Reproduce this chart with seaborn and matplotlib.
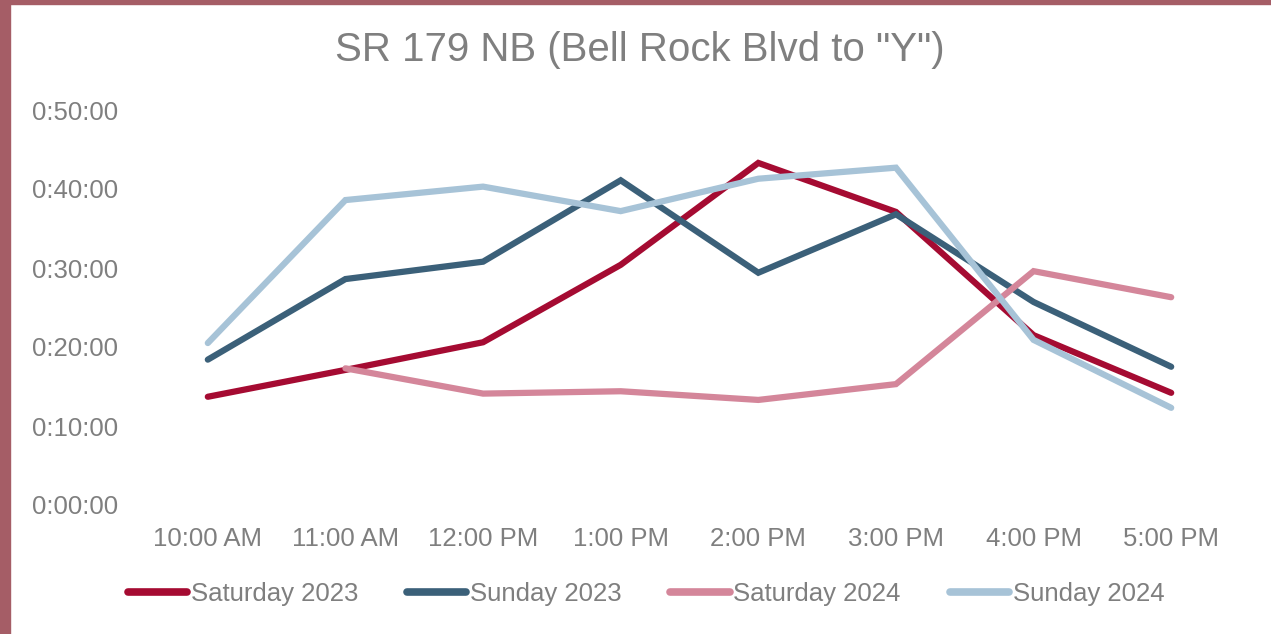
import numpy as np
import pandas as pd
import matplotlib
matplotlib.use("Agg")
import matplotlib.pyplot as plt
from matplotlib.ticker import FuncFormatter, MultipleLocator
from matplotlib.patches import Rectangle
from matplotlib.lines import Line2D
import seaborn as sns

# ---- data (travel time in minutes) ----
times = ["10:00 AM", "11:00 AM", "12:00 PM", "1:00 PM", "2:00 PM", "3:00 PM", "4:00 PM", "5:00 PM"]
saturday_2023 = [13.7, 17.1, 20.6, 30.4, 43.3, 37.1, 21.5, 14.2]
sunday_2023 = [18.4, 28.6, 30.8, 41.1, 29.4, 36.8, 25.7, 17.5]
saturday_2024 = [np.nan, 17.3, 14.1, 14.4, 13.3, 15.3, 29.6, 26.3]
sunday_2024 = [20.5, 38.6, 40.3, 37.2, 41.3, 42.7, 20.9, 12.3]
series_names = ["Saturday 2023", "Sunday 2023", "Saturday 2024", "Sunday 2024"]
colors = ["#A50B32", "#3B6079", "#D4869A", "#A7C3D7"]

rows = []
for name, vals in zip(series_names, [saturday_2023, sunday_2023, saturday_2024, sunday_2024]):
    for i, (t, v) in enumerate(zip(times, vals)):
        rows.append({"idx": i, "time": t, "minutes": v, "series": name})
df = pd.DataFrame(rows)

sns.set_theme(style="white")
plt.rcParams["font.family"] = ["Liberation Sans", "DejaVu Sans"]
text_color = "#7F7F7F"

fig = plt.figure(figsize=(12.71, 6.34), dpi=100)
fig.patch.set_facecolor("white")
ax = fig.add_axes([139 / 1271, 1 - 505 / 634, (1240 - 139) / 1271, (505 - 110) / 634])

sns.lineplot(data=df, x="idx", y="minutes", hue="series", hue_order=series_names,
             palette=colors, linewidth=4.5, sort=False, ax=ax, legend=False)
for ln in ax.lines:
    ln.set_solid_capstyle("round")
    ln.set_solid_joinstyle("miter")

ax.set_xlim(-0.5, len(times) - 0.5)
ax.set_ylim(0, 50)
ax.set_xticks(range(len(times)))
ax.set_xticklabels(times)
ax.yaxis.set_major_locator(MultipleLocator(10))
ax.yaxis.set_major_formatter(FuncFormatter(lambda v, p: f"0:{int(round(v)):02d}:00"))
ax.tick_params(axis="both", length=0, labelsize=18.5, labelcolor=text_color)
ax.tick_params(axis="x", pad=16)
ax.tick_params(axis="y", pad=15)
ax.set_xlabel("")
ax.set_ylabel("")
for s in ax.spines.values():
    s.set_visible(False)

fig.text(640 / 1271, 1 - 50 / 634, 'SR 179 NB (Bell Rock Blvd to "Y")', ha="center", va="center",
         fontsize=29, color=text_color)

handles = [Line2D([0], [0], color=c, lw=5.5, solid_capstyle="round") for c in colors]
leg = fig.legend(handles, series_names, loc="center", bbox_to_anchor=(646 / 1271, 1 - 594 / 634),
                 ncol=4, frameon=False, fontsize=18.5, handlelength=2.3, handletextpad=0.15,
                 columnspacing=1.9)
for t in leg.get_texts():
    t.set_color(text_color)

# border (left and top)
fig.patches.append(Rectangle((0, 0), 10 / 1271, 1, transform=fig.transFigure, color="#A55D66", zorder=10))
fig.patches.append(Rectangle((0, 1 - 4 / 634), 1, 4 / 634, transform=fig.transFigure, color="#A55D66", zorder=10))

fig.savefig("out.png", dpi=100, facecolor="white")
